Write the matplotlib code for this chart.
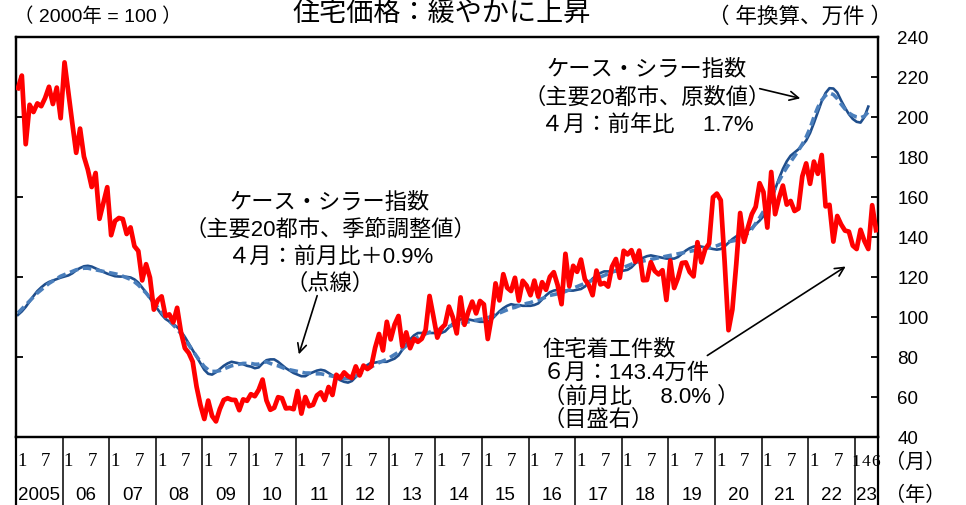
import numpy as np
import matplotlib
matplotlib.use("Agg")
import matplotlib.pyplot as plt

plt.rcParams['font.family'] = ['Liberation Sans', 'Noto Sans CJK JP']

# months from 2005-01
years = ['2005', '06', '07', '08', '09', '10', '11', '12', '13', '14',
         '15', '16', '17', '18', '19', '20', '21', '22', '23']

# housing starts, annualized (10k units), 2005-01 .. 2023-06
starts = [
    214.4, 220.7, 186.4, 206.1, 202.5, 206.8, 205.4, 209.5, 215.1, 206.5, 214.7, 199.4,
    227.3, 211.9, 196.9, 182.1, 194.2, 180.2, 173.7, 165.0, 172.0, 149.1, 157.0, 164.9,
    140.9, 148.0, 149.5, 149.0, 141.5, 144.8, 135.4, 133.0, 118.3, 126.4, 119.7, 103.7,
    108.4, 110.3, 100.5, 101.3, 97.3, 104.6, 92.3, 84.4, 82.0, 77.7, 65.2, 56.0,
    49.0, 58.2, 50.5, 47.8, 54.0, 58.5, 59.4, 58.6, 58.5, 53.4, 58.8, 58.1,
    61.4, 60.4, 63.6, 68.7, 58.3, 53.6, 54.6, 59.9, 59.4, 54.3, 54.5, 53.9,
    63.0, 51.7, 60.0, 55.4, 56.1, 60.8, 62.3, 58.5, 65.0, 61.0, 71.1, 69.4,
    72.3, 70.4, 69.5, 75.3, 70.8, 75.7, 74.0, 75.4, 84.7, 91.5, 83.3, 97.6,
    88.8, 96.2, 100.5, 85.4, 92.3, 84.4, 89.1, 87.6, 89.1, 93.6, 110.5, 100.3,
    89.7, 94.3, 96.2, 105.2, 99.9, 91.8, 109.8, 96.1, 102.6, 107.7, 101.8, 108.0,
    106.3, 89.0, 100.2, 116.8, 108.3, 121.4, 114.6, 113.0, 119.6, 108.2, 118.1, 115.7,
    110.9, 118.2, 110.2, 117.4, 113.6, 120.1, 122.4, 115.9, 106.4, 131.6, 115.4, 125.6,
    122.6, 128.7, 118.9, 116.0, 110.9, 123.2, 116.3, 117.0, 115.2, 125.2, 129.0, 119.6,
    133.1, 131.3, 133.4, 127.6, 133.2, 118.4, 118.5, 127.4, 123.0, 121.3, 123.4, 108.5,
    128.2, 114.5, 119.6, 127.0, 127.3, 122.5, 120.3, 137.4, 127.3, 133.9, 136.7, 159.9,
    161.7, 158.4, 127.6, 93.4, 103.8, 126.5, 152.0, 137.6, 144.8, 151.4, 155.1, 166.9,
    162.5, 144.7, 172.5, 151.4, 159.4, 165.7, 156.2, 158.0, 153.0, 154.2, 170.3, 176.8,
    166.6, 177.7, 171.6, 181.0, 155.3, 156.1, 137.7, 150.5, 146.3, 143.2, 142.7, 135.7,
    134.0, 143.6, 138.0, 134.0, 155.9, 143.4,
]

# Case-Shiller 20 city, not seasonally adjusted (2000=100), 2005-01 .. 2023-04
cs_nsa = [
    176.3, 178.5, 181.3, 184.7, 188.1, 191.2, 193.5, 195.5, 196.9, 197.8, 198.7, 199.6,
    200.3, 201.0, 202.3, 204.2, 205.6, 206.7, 207.0, 206.5, 205.4, 204.3, 203.2, 202.1,
    201.3, 200.5, 200.3, 200.2, 200.1, 199.7, 198.5, 196.5, 193.4, 190.3, 186.7, 183.1,
    179.8, 176.5, 173.8, 172.2, 170.6, 168.7, 166.0, 162.5, 158.4, 154.3, 150.2, 146.1,
    142.0, 139.5, 139.0, 140.5, 142.5, 144.5, 146.0, 147.0, 146.5, 146.0, 145.5, 144.5,
    144.0, 143.0, 143.5, 146.0, 148.0, 148.5, 148.5, 147.0, 145.0, 143.0, 141.5, 140.0,
    139.0, 138.0, 138.0, 139.5, 140.5, 141.5, 142.0, 141.5, 140.0, 138.5, 137.0, 135.5,
    134.5, 134.0, 135.0, 137.5, 140.5, 143.0, 145.0, 146.5, 146.5, 147.0, 147.0, 147.0,
    148.0, 149.0, 151.0, 154.5, 158.0, 161.0, 163.5, 165.0, 165.0, 165.0, 165.0, 165.0,
    165.0, 165.0, 166.0, 168.5, 171.0, 172.5, 173.5, 174.0, 173.5, 173.0, 172.5, 172.0,
    172.0, 172.0, 173.5, 176.0, 178.5, 180.5, 182.0, 183.0, 182.5, 182.5, 182.0, 182.0,
    182.0, 182.5, 183.5, 186.0, 188.5, 190.5, 191.5, 192.0, 191.5, 191.5, 191.5, 191.5,
    192.0, 192.5, 194.0, 196.5, 199.0, 201.0, 202.5, 203.5, 203.5, 203.5, 203.5, 203.5,
    204.0, 204.5, 206.0, 208.5, 210.5, 212.0, 213.0, 213.5, 213.0, 212.5, 212.0, 211.5,
    211.5, 211.5, 212.5, 214.5, 216.5, 218.0, 219.0, 219.5, 219.0, 218.5, 218.0, 217.5,
    217.1, 217.5, 219.1, 221.4, 223.7, 225.4, 227.0, 228.5, 229.3, 230.6, 232.9, 235.2,
    238.0, 241.8, 247.5, 254.8, 261.5, 267.5, 272.3, 275.8, 277.8, 279.8, 282.3, 285.3,
    290.0, 296.3, 303.0, 309.8, 315.0, 318.0, 317.8, 315.3, 310.3, 305.8, 301.8, 298.8,
    297.0, 296.5, 300.0, 306.5,
]

# Case-Shiller 20 city, seasonally adjusted (dashed)
cs_sa = [
    177.5, 180.0, 182.5, 185.0, 187.5, 190.0, 192.0, 194.0, 196.0, 197.5, 199.0, 200.5,
    201.5, 202.5, 203.5, 204.5, 205.0, 205.5, 205.5, 205.0, 204.5, 204.0, 203.5, 203.0,
    202.5, 202.0, 201.5, 200.5, 199.5, 198.5, 197.0, 195.0, 192.5, 190.0, 187.0, 184.0,
    181.0, 178.0, 175.0, 172.5, 170.0, 167.5, 164.5, 161.0, 157.5, 154.0, 150.5, 147.0,
    144.0, 142.0, 141.0, 141.0, 141.5, 142.5, 143.5, 144.5, 145.0, 145.5, 146.0, 146.0,
    146.0, 145.5, 145.5, 146.5, 147.0, 146.0, 145.0, 144.5, 143.5, 142.5, 142.0, 141.5,
    141.0, 140.5, 140.0, 140.0, 139.5, 139.5, 139.5, 139.0, 138.5, 138.0, 137.5, 137.0,
    136.5, 136.5, 137.0, 138.0, 139.5, 141.0, 142.5, 144.0, 145.0, 146.5, 147.5, 148.5,
    150.0, 151.5, 153.0, 155.0, 157.0, 159.0, 161.0, 162.5, 163.5, 164.5, 165.5, 166.5,
    167.0, 167.5, 168.0, 169.0, 170.0, 170.5, 171.0, 171.5, 172.0, 172.5, 173.0, 173.5,
    174.0, 174.5, 175.5, 176.5, 177.5, 178.5, 179.5, 180.5, 181.0, 182.0, 182.5, 183.5,
    184.0, 185.0, 185.5, 186.5, 187.5, 188.5, 189.0, 189.5, 190.0, 191.0, 192.0, 193.0,
    194.0, 195.0, 196.0, 197.0, 198.0, 199.0, 200.0, 201.0, 202.0, 203.0, 204.0, 205.0,
    206.0, 207.0, 208.0, 209.0, 209.5, 210.0, 210.5, 211.0, 211.5, 212.0, 212.5, 213.0,
    213.5, 214.0, 214.5, 215.0, 215.5, 216.0, 216.5, 217.0, 217.5, 218.0, 218.5, 219.0,
    219.5, 220.5, 221.5, 222.0, 222.5, 223.0, 224.0, 225.5, 227.5, 230.0, 233.5, 237.0,
    241.0, 245.5, 250.5, 255.5, 260.0, 264.5, 268.5, 272.0, 275.5, 279.0, 283.0, 287.5,
    293.0, 300.0, 306.0, 310.5, 313.5, 315.0, 314.0, 311.5, 308.0, 305.0, 302.5, 301.0,
    300.0, 299.5, 300.5, 303.2,
]

W, H = 966, 505


def px(x, y):
    # figure pixel position measured from top-left
    return (x, H - y)


fig = plt.figure(figsize=(W / 100, H / 100), dpi=100)
ax = fig.add_axes([16 / W, 68 / H, 862 / W, 400 / H])
ax2 = ax.twinx()

n_months = len(starts)
t_red = np.arange(n_months)
t_cs = np.arange(len(cs_nsa))

ax.plot(t_cs, cs_nsa, color='#1f4e8c', lw=1.9, zorder=3)
ax.plot(t_cs, cs_sa, color='#4a7ebb', lw=2.6, dashes=(2.4, 1.3), zorder=4)
ax2.plot(t_red, starts, color='#ff0000', lw=3.4, solid_joinstyle='round', zorder=5)

ax.set_xlim(-0.5, n_months - 0.5)
ax.set_ylim(100, 350)
ax.set_yticks(np.arange(100, 351, 50))
ax2.set_ylim(40, 240)
ax2.set_yticks(np.arange(40, 241, 20))
ax.set_xticks([])
ax2.set_xticks([])

ax.tick_params(axis='y', direction='in', length=5, width=1.3, labelleft=False)
ax2.tick_params(axis='y', direction='in', length=5, width=1.3, labelsize=13.5, pad=14)
for a in (ax, ax2):
    for s in a.spines.values():
        s.set_linewidth(1.6)

# month / year table below the plot
tr = ax.get_xaxis_transform()
bounds = [12 * k - 0.5 for k in range(len(years))] + [n_months - 0.5]
for i, b in enumerate(bounds):
    edge = i == 0 or i == len(bounds) - 1
    ax.plot([b, b], [0, -0.18], transform=tr, color='black',
            lw=1.6 if edge else 1.1, clip_on=False)

serif = {'family': 'Liberation Serif', 'size': 13.5}
for k, yr in enumerate(years):
    start = 12 * k
    if yr == '23':
        for m, off in (('1', -0.1), ('4', 2.35), ('6', 4.8)):
            ax.text(start + off, -0.062, m, transform=tr, ha='center', va='center',
                    family='Liberation Serif', size=12.5)
        center = (start - 0.5 + n_months - 0.5) / 2
    else:
        ax.text(start + 1.0, -0.062, '1', transform=tr, ha='center', va='center', fontdict=serif)
        ax.text(start + 7.2, -0.062, '7', transform=tr, ha='center', va='center', fontdict=serif)
        center = start + 5.5
    ax.text(center, -0.145, yr, transform=tr, ha='center', va='center', fontsize=13.5)

fig.text(*px(915, 462), '（月）', ha='center', va='center', fontsize=14.5, transform=None)
fig.text(*px(915, 495), '（年）', ha='center', va='center', fontsize=14.5, transform=None)

# header texts
fig.text(*px(442, 14), '住宅価格：緩やかに上昇', ha='center', va='center', fontsize=19.5, transform=None)
fig.text(*px(14, 17), '（ 2000年 = 100 ）', ha='left', va='center', fontsize=14, transform=None)
fig.text(*px(800, 17), '（ 年換算、万件 ）', ha='center', va='center', fontsize=15.5, transform=None)

# annotations
fs = 16
for y, s in ((70, 'ケース・シラー指数'), (98, '（主要20都市、原数値）'), (125, '４月：前年比　 1.7%')):
    fig.text(*px(647, y), s, ha='center', va='center', fontsize=fs, transform=None)
ax.annotate('', xy=px(803, 99), xytext=px(757, 88), xycoords='figure pixels',
            arrowprops=dict(arrowstyle='->', color='black', lw=1.2, mutation_scale=16))

for y, s in ((203, 'ケース・シラー指数'), (230, '（主要20都市、季節調整値）'),
             (257, '４月：前月比＋0.9%'), (284, '（点線）')):
    fig.text(*px(330, y), s, ha='center', va='center', fontsize=fs, transform=None)
ax.annotate('', xy=px(298, 357), xytext=px(318, 293), xycoords='figure pixels',
            arrowprops=dict(arrowstyle='->', color='black', lw=1.2, mutation_scale=16))

for y, s in ((350, '住宅着工件数'), (373, '６月：143.4万件'), (397, '（前月比　 8.0% ）'), (420, '（目盛右）')):
    fig.text(*px(543, y), s, ha='left', va='center', fontsize=fs, transform=None)
ax.annotate('', xy=px(848, 265), xytext=px(705, 357), xycoords='figure pixels',
            arrowprops=dict(arrowstyle='->', color='black', lw=1.2, mutation_scale=16))

fig.savefig('out.png', dpi=100)
